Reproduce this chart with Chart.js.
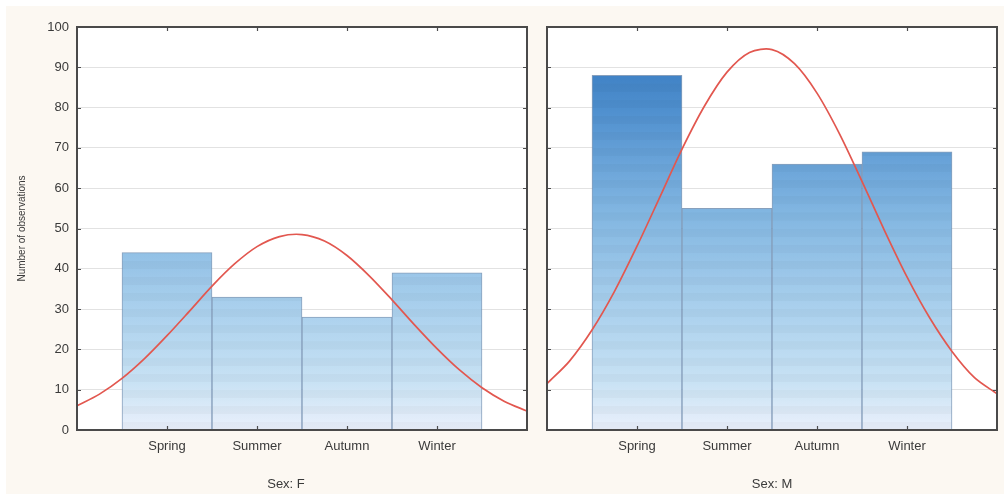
<!DOCTYPE html>
<html>
<head>
<meta charset="utf-8">
<script src="https://cdn.jsdelivr.net/npm/chart.js@4.4.1/dist/chart.umd.min.js"></script>
<style>
  html, body { margin: 0; padding: 0; background: #ffffff; }
  #stage { position: relative; width: 1004px; height: 494px; overflow: hidden; }
  #paper { position: absolute; left: 6px; top: 6px; right: 0; bottom: 0; background: #fcf8f2; }
  .panel { position: absolute; top: 0; height: 494px; }
  #panelF { left: 0; width: 537px; }
  #panelM { left: 537px; width: 467px; }
</style>
</head>
<body>
<div id="stage">
  <div id="paper"></div>
  <div class="panel" id="panelF"><canvas id="chartF" width="537" height="494"></canvas></div>
  <div class="panel" id="panelM"><canvas id="chartM" width="467" height="494"></canvas></div>
</div>
<script>
// Seasonal observation counts, split by sex
const seasons = ['Spring', 'Summer', 'Autumn', 'Winter'];
const femaleCounts = [44, 33, 28, 39];
const maleCounts = [88, 55, 66, 69];

// Fitted normal curve, sampled every quarter season
const curveX = [-1, -0.75, -0.5, -0.25, 0, 0.25, 0.5, 0.75, 1, 1.25, 1.5, 1.75, 2, 2.25, 2.5, 2.75, 3, 3.25, 3.5, 3.75, 4];
const femaleCurve = [6.0, 8.9, 12.8, 17.7, 23.4, 29.5, 35.7, 41.2, 45.5, 48.0, 48.5, 46.9, 43.3, 38.2, 32.3, 26.1, 20.2, 14.9, 10.5, 7.1, 4.7];
const maleCurve = [11.5, 17.1, 24.8, 34.4, 45.6, 57.6, 69.7, 80.4, 88.8, 93.7, 94.4, 90.9, 83.6, 73.5, 61.7, 49.5, 38.0, 27.9, 19.5, 13.0, 9.0];

// Axis labels
const yTicks = [0, 10, 20, 30, 40, 50, 60, 70, 80, 90, 100];
const yTitle = 'Number of observations';
const panelLabels = ['Sex: F', 'Sex: M'];

const FONT = '"Liberation Sans", Arial, sans-serif';
const TEXT = '#3a3a3a';

// Vertical blue ramp for the bars, with faint horizontal banding
const ramp = [
  [0.00, [234, 240, 251]],
  [0.12, [200, 226, 244]],
  [0.30, [170, 208, 237]],
  [0.55, [128, 181, 225]],
  [0.80, [78, 143, 206]],
  [1.00, [46, 114, 187]]
];
function rampColor(t, k) {
  for (let i = 1; i < ramp.length; i++) {
    if (t <= ramp[i][0]) {
      const [t0, c0] = ramp[i - 1], [t1, c1] = ramp[i];
      const f = (t - t0) / (t1 - t0);
      const c = c0.map((v, j) => Math.round((v + (c1[j] - v) * f) * k));
      return `rgb(${c[0]},${c[1]},${c[2]})`;
    }
  }
  const c = ramp[ramp.length - 1][1];
  return `rgb(${c.map(v => Math.round(v * k)).join(',')})`;
}
function barFill(context) {
  const chart = context.chart;
  const area = chart.chartArea;
  if (!area) return 'rgb(128,181,225)';
  if (chart.$barGradient) return chart.$barGradient;
  const g = chart.ctx.createLinearGradient(0, area.bottom, 0, area.top);
  const bands = Math.round((area.bottom - area.top) / 8);
  for (let b = 0; b < bands; b++) {
    const t0 = b / bands, t1 = (b + 1) / bands;
    const k = b % 2 ? 1.0 : 0.975;
    g.addColorStop(t0, rampColor(t0, k));
    g.addColorStop(Math.max(t0, t1 - 0.0005), rampColor(t1, k));
  }
  chart.$barGradient = g;
  return g;
}

// White plot background, dark frame, inward tick marks and the panel caption
const framePlugin = {
  id: 'frame',
  beforeDraw(chart) {
    const { ctx, chartArea: a } = chart;
    ctx.save();
    ctx.fillStyle = '#ffffff';
    ctx.fillRect(a.left, a.top, a.right - a.left, a.bottom - a.top);
    ctx.restore();
  },
  afterDraw(chart, args, opts) {
    const { ctx, chartArea: a, scales } = chart;
    ctx.save();
    ctx.strokeStyle = '#4d4d4d';
    ctx.lineWidth = 1.2;
    ctx.beginPath();
    yTicks.forEach(v => {
      if (v === 0 || v === 100) return;
      const y = Math.round(scales.y.getPixelForValue(v)) + 0.5;
      ctx.moveTo(a.left, y); ctx.lineTo(a.left + 4, y);
      ctx.moveTo(a.right, y); ctx.lineTo(a.right - 4, y);
    });
    seasons.forEach((s, i) => {
      const x = Math.round(scales.x.getPixelForValue(i)) + 0.5;
      ctx.moveTo(x, a.bottom); ctx.lineTo(x, a.bottom - 4);
      ctx.moveTo(x, a.top); ctx.lineTo(x, a.top + 4);
    });
    ctx.stroke();
    ctx.strokeStyle = '#4a4a4a';
    ctx.lineWidth = 2;
    ctx.strokeRect(a.left, a.top, a.right - a.left, a.bottom - a.top);
    ctx.fillStyle = TEXT;
    ctx.font = '13px ' + FONT;
    ctx.textAlign = 'center';
    ctx.textBaseline = 'middle';
    ctx.fillText(opts.caption, (a.left + a.right) / 2 + opts.shift, 484);
    ctx.restore();
  }
};

function makePanel(canvasId, counts, curve, caption, showY) {
  const ctx = document.getElementById(canvasId).getContext('2d');
  return new Chart(ctx, {
    data: {
      datasets: [
        {
          type: 'line',
          data: curveX.map((x, i) => ({ x, y: curve[i] })),
          borderColor: '#e2574f',
          borderWidth: 1.7,
          pointRadius: 0,
          tension: 0.3,
          order: 0
        },
        {
          type: 'bar',
          data: counts.map((v, i) => ({ x: i, y: v })),
          backgroundColor: barFill,
          borderColor: 'rgba(96,128,166,0.75)',
          borderWidth: { left: 1, right: 1, top: 1, bottom: 0 },
          borderSkipped: 'start',
          barPercentage: 1,
          categoryPercentage: 1,
          order: 1
        }
      ]
    },
    options: {
      responsive: false,
      animation: false,
      events: [],
      layout: { padding: showY ? { top: 27, right: 10, left: 0, bottom: 0 } : { top: 27, right: 7, left: 10, bottom: 0 } },
      plugins: {
        legend: { display: false },
        tooltip: { enabled: false },
        frame: { caption, shift: showY ? -16 : 0 }
      },
      scales: {
        x: {
          type: 'linear',
          min: -1,
          max: 4,
          offset: false,
          afterBuildTicks(scale) { scale.ticks = seasons.map((s, i) => ({ value: i })); },
          afterFit(scale) { scale.height = 64; },
          ticks: {
            callback: v => seasons[v] ?? '',
            autoSkip: false,
            maxRotation: 0,
            padding: 9,
            color: TEXT,
            font: { family: FONT, size: 13 }
          },
          grid: { display: false, drawTicks: false, offset: false },
          border: { display: false }
        },
        y: {
          min: 0,
          max: 100,
          afterBuildTicks(scale) { scale.ticks = yTicks.map(v => ({ value: v })); },
          afterFit(scale) { scale.width = showY ? 77 : 0; },
          ticks: {
            display: showY,
            padding: 8,
            color: TEXT,
            font: { family: FONT, size: 13 }
          },
          grid: { color: '#e2e2e2', lineWidth: 1, drawTicks: false },
          border: { display: false },
          title: {
            display: showY,
            text: yTitle,
            color: TEXT,
            padding: { top: 16, bottom: 0 },
            font: { family: FONT, size: 10 }
          }
        }
      }
    },
    plugins: [framePlugin]
  });
}

makePanel('chartF', femaleCounts, femaleCurve, panelLabels[0], true);
makePanel('chartM', maleCounts, maleCurve, panelLabels[1], false);
</script>
</body>
</html>
